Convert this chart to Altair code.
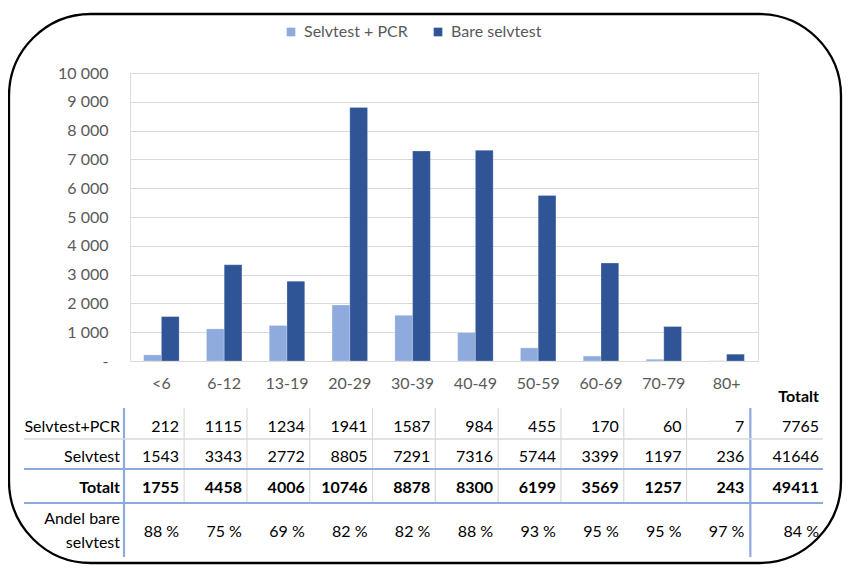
import altair as alt
import pandas as pd

# ---------------- data ----------------
ages = ["<6", "6-12", "13-19", "20-29", "30-39", "40-49", "50-59", "60-69", "70-79", "80+"]
selvtest_pcr = [212, 1115, 1234, 1941, 1587, 984, 455, 170, 60, 7]
bare_selvtest = [1543, 3343, 2772, 8805, 7291, 7316, 5744, 3399, 1197, 236]
totalt = [1755, 4458, 4006, 10746, 8878, 8300, 6199, 3569, 1257, 243]
andel = ["88 %", "75 %", "69 %", "82 %", "82 %", "88 %", "93 %", "95 %", "95 %", "97 %"]
series = ["Selvtest + PCR", "Bare selvtest"]
row_labels = ["Selvtest+PCR", "Selvtest", "Totalt"]
andel_label = ["Andel bare", "selvtest"]
sum_header = "Totalt"
sum_values = ["7765", "41646", "49411", "84 %"]
y_ticks = [0, 1000, 2000, 3000, 4000, 5000, 6000, 7000, 8000, 9000, 10000]

# ---------------- styles / layout ----------------
FONT = "Lato"
LIGHT = "#8FAADC"
DARK = "#2F5597"
GRID = "#d9d9d9"
BLUE_LINE = "#8EA9DB"
GRAY_TXT = "#595959"
FS = 16

W, H = 628, 288
PAD = {"left": 122, "top": 65, "right": 85, "bottom": 204}

ROW_Y = [354, 384, 415]
ANDEL_Y = 459
ANDEL_LABEL_Y = [446, 470]
HEADER_X = -10
SUM_X = 689
SUM_HEADER_Y = 324

bars_df = pd.DataFrame({
    "age": ages * 2,
    "series": [series[0]] * len(ages) + [series[1]] * len(ages),
    "value": selvtest_pcr + bare_selvtest,
})

xscale = alt.Scale(domain=ages, paddingInner=0.435, paddingOuter=0.2175)
xaxis = alt.Axis(title=None, domain=False, ticks=False, grid=False, labelFont=FONT,
                 labelFontSize=FS, labelColor=GRAY_TXT, labelPadding=22,
                 labelBaseline="middle", labelAngle=0)


def xenc(band=None):
    if band is None:
        return alt.X("age:N", sort=ages, scale=xscale, axis=xaxis)
    return alt.X("age:N", sort=ages, scale=xscale, axis=xaxis, bandPosition=band)


bars = alt.Chart(bars_df).mark_bar(stroke="white", strokeWidth=0.4, strokeOpacity=0.6).encode(
    x=xenc(),
    xOffset=alt.XOffset("series:N", sort=series, scale=alt.Scale(domain=series)),
    y=alt.Y("value:Q", scale=alt.Scale(domain=[0, 10000], nice=False),
            axis=alt.Axis(title=None, values=y_ticks, domain=False, ticks=False, tickSize=0,
                          gridColor=GRID, gridWidth=1.2, labelFont=FONT, labelFontSize=FS,
                          labelColor=GRAY_TXT, labelPadding=22,
                          labelExpr="datum.value == 0 ? '-' : replace(format(datum.value, ','), ',', ' ')")),
    color=alt.Color("series:N", sort=series,
                    scale=alt.Scale(domain=series, range=[LIGHT, DARK]),
                    legend=alt.Legend(orient="none", legendX=153, legendY=-49, direction="horizontal",
                                      title=None, symbolType="square", symbolSize=75,
                                      symbolStrokeWidth=0, labelFont=FONT, labelFontSize=FS,
                                      labelColor=GRAY_TXT, columnPadding=22, labelOffset=5)),
)

layers = [bars]

one = pd.DataFrame({"k": [0]})

# border
layers.append(alt.Chart(one).mark_rect(fillOpacity=0, stroke="black", strokeWidth=2.3,
                                       cornerRadius=82).encode(
    x=alt.value(-121), x2=alt.value(711), y=alt.value(-59), y2=alt.value(490)))

# table grid: vertical gray lines
vl_df = pd.DataFrame({"age": ages[:-1]})
layers.append(alt.Chart(vl_df).mark_rule(color=GRID, strokeWidth=1.2, xOffset=5).encode(
    x=xenc(1), y=alt.value(335), y2=alt.value(429)))
# blue vertical lines
layers.append(alt.Chart(pd.DataFrame({"age": [ages[-1]]})).mark_rule(
    color=BLUE_LINE, strokeWidth=2.2, xOffset=6).encode(
    x=xenc(1), y=alt.value(335), y2=alt.value(484)))
layers.append(alt.Chart(one).mark_rule(color=BLUE_LINE, strokeWidth=2.2).encode(
    x=alt.value(-6), y=alt.value(335), y2=alt.value(484)))
# horizontal lines
for yy, col, sw in [(366, GRID, 1.5), (396, BLUE_LINE, 2.2), (430, BLUE_LINE, 2.2)]:
    layers.append(alt.Chart(one).mark_rule(color=col, strokeWidth=sw).encode(
        x=alt.value(-106), x2=alt.value(693), y=alt.value(yy)))


def txt(df, y, x=None, bold=False, field="t"):
    mk = alt.Chart(df).mark_text(font=FONT, fontSize=FS, color="black", align="right",
                                 baseline="middle", fontWeight="bold" if bold else "normal")
    enc = {"y": alt.value(y), "text": alt.Text(f"{field}:N")}
    if x is None:
        enc["x"] = xenc(1)
    else:
        enc["x"] = alt.value(x)
    return mk.encode(**enc)


rows = [selvtest_pcr, bare_selvtest, totalt]
for i, vals in enumerate(rows):
    df = pd.DataFrame({"age": ages, "t": [str(v) for v in vals]})
    layers.append(txt(df, ROW_Y[i], bold=(i == 2)))
    layers.append(txt(pd.DataFrame({"t": [row_labels[i]]}), ROW_Y[i], x=HEADER_X, bold=(i == 2)))
    layers.append(txt(pd.DataFrame({"t": [sum_values[i]]}), ROW_Y[i], x=SUM_X, bold=(i == 2)))

layers.append(txt(pd.DataFrame({"age": ages, "t": andel}), ANDEL_Y))
layers.append(txt(pd.DataFrame({"t": [sum_values[3]]}), ANDEL_Y, x=SUM_X))
for j, lab in enumerate(andel_label):
    layers.append(txt(pd.DataFrame({"t": [lab]}), ANDEL_LABEL_Y[j], x=HEADER_X))
layers.append(txt(pd.DataFrame({"t": [sum_header]}), SUM_HEADER_Y, x=SUM_X, bold=True))

chart = alt.layer(*layers).properties(
    width=W, height=H, padding=PAD,
    autosize=alt.AutoSizeParams(type="none"),
).configure_view(stroke=None).configure(background="white")

chart.save("out.html", embed_options={"renderer": "svg", "actions": False})
